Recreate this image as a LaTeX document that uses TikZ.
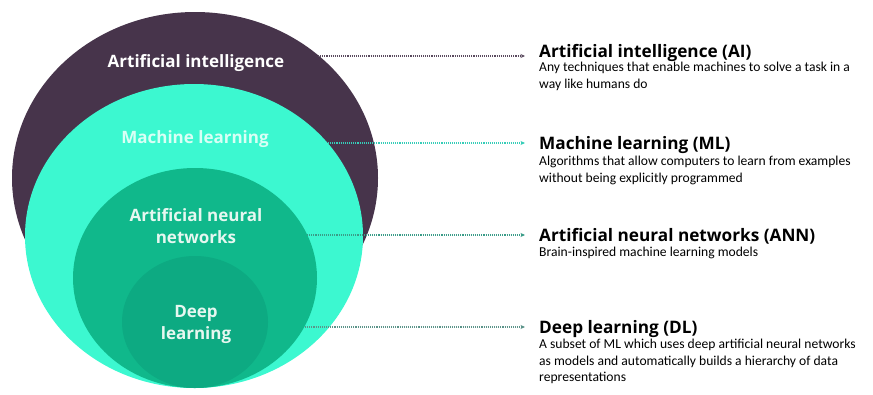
\documentclass[tikz,border=0pt]{standalone}
\usepackage{fontspec}
\setmainfont{Carlito}
\newfontfamily\headfont{Open Sans}
\usetikzlibrary{arrows.meta,positioning}

\definecolor{aicol}{HTML}{47344B}
\definecolor{mlcol}{HTML}{3CF8D0}
\definecolor{anncol}{HTML}{10B88B}
\definecolor{dlcol}{HTML}{0DAA82}
\definecolor{mltext}{HTML}{D9FFF5}
\definecolor{inner}{HTML}{E6F7F0}
\definecolor{ailine}{HTML}{5A4A5E}
\definecolor{mlline}{HTML}{36CDB8}
\definecolor{annline}{HTML}{3A9C88}
\definecolor{dlline}{HTML}{5B9389}

\tikzset{
  set/.style={inner sep=0pt,outer sep=0pt},
  setlabel/.style={align=center,font=\headfont\bfseries\fontsize{17}{22}\selectfont},
  title/.style={anchor=base west,inner sep=0pt,font=\headfont\bfseries\fontsize{17.2}{21}\selectfont},
  desc/.style={anchor=north west,inner sep=0pt,align=left,font=\fontsize{13.6}{16.5}\selectfont},
  pointer/.style={densely dotted,line width=1.1pt,-{Stealth[length=4.5pt,width=4pt]},shorten >=14pt}
}

\begin{document}
\begin{tikzpicture}[x=1pt,y=-1pt]
      \useasboundingbox (0,0) rectangle (873,394);

      % nested sets
      \fill[aicol]  (195,178) ellipse [x radius=183, y radius=166];
      \fill[mlcol]  (194,236) ellipse [x radius=169, y radius=152];
      \fill[anncol] (195,278) ellipse [x radius=122, y radius=110];
      \fill[dlcol]  (195,322) ellipse [x radius=73,  y radius=66];

      \node[setlabel,text=white]  (ai-lbl)  at (196,63)  {Artificial intelligence};
      \node[setlabel,text=mltext] (ml-lbl)  at (195,139) {Machine learning};
      \node[setlabel,text=inner]  (ann-lbl) at (196,226) {Artificial neural\\networks};
      \node[setlabel,text=inner]  (dl-lbl)  at (196,324) {Deep\\learning};

      % start points of the pointers
      \coordinate (ai-from)  at (318,56);
      \coordinate (ml-from)  at (328,143);
      \coordinate (ann-from) at (307,235);
      \coordinate (dl-from)  at (305,327);

      % right column
      \node[title] (ai-title)  at (539,57)  {Artificial intelligence (AI)};
      \node[title] (ml-title)  at (539,149) {Machine learning (ML)};
      \node[title] (ann-title) at (539,241) {Artificial neural networks (ANN)};
      \node[title] (dl-title)  at (539,333) {Deep learning (DL)};

      \node[desc] (ai-desc)  at (539,62)  {Any techniques that enable machines to solve a task in a\\way like humans do};
      \node[desc] (ml-desc)  at (539,156) {Algorithms that allow computers to learn from examples\\without being explicitly programmed};
      \node[desc] (ann-desc) at (539,247) {Brain-inspired machine learning models};
      \node[desc] (dl-desc)  at (539,339) {A subset of ML which uses deep artificial neural networks\\as models and automatically builds a hierarchy of data\\representations};

      \draw[pointer,color=ailine]  (ai-from)  -- (ai-from -| ai-title.west);
      \draw[pointer,color=mlline]  (ml-from)  -- (ml-from -| ml-title.west);
      \draw[pointer,color=annline] (ann-from) -- (ann-from -| ann-title.west);
      \draw[pointer,color=dlline]  (dl-from)  -- (dl-from -| dl-title.west);
    \end{tikzpicture}
\end{document}
